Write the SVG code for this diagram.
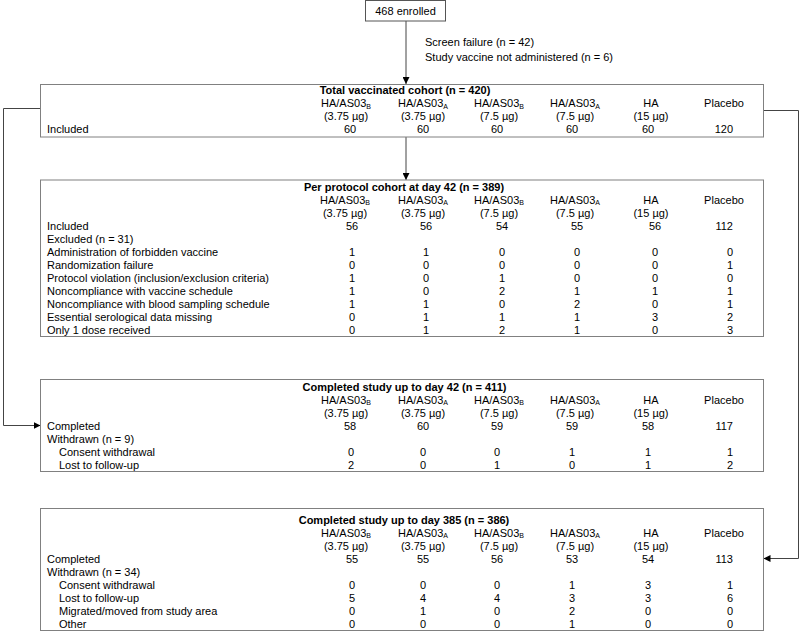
<svg xmlns="http://www.w3.org/2000/svg" width="800" height="632" viewBox="0 0 800 632">
<style>
text{font-family:"Liberation Sans",Arial,sans-serif;font-size:11px;fill:#000}
.t{font-weight:bold;text-anchor:middle}
.c{text-anchor:middle}
.e{text-anchor:end}
.s{font-size:7px}
.box{fill:#fff;stroke:#808080;stroke-width:1}
.top{fill:#fff;stroke:#555;stroke-width:1}
.ln{fill:none;stroke:#444;stroke-width:1}
</style>
<defs>
<marker id="ah" viewBox="0 0 10 10" refX="10" refY="5" markerWidth="7" markerHeight="7" markerUnits="userSpaceOnUse" orient="auto">
<path d="M0,0 L10,5 L0,10 z" fill="#000"/>
</marker>
</defs>

<g id="connectors">
<line class="ln" x1="406" y1="21" x2="406" y2="84" marker-end="url(#ah)"/>
<line class="ln" x1="406" y1="137" x2="406" y2="180" marker-end="url(#ah)"/>
<polyline class="ln" points="40.5,108.5 3.5,108.5 3.5,425.5 40.5,425.5" marker-end="url(#ah)"/>
<polyline class="ln" points="763.5,110.5 798.5,110.5 798.5,558.5 763.5,558.5" marker-end="url(#ah)"/>
</g>

<g id="enrolled">
<rect class="top" x="365.5" y="0.5" width="80" height="20.5"/>
<text class="c" x="405.5" y="15">468 enrolled</text>
</g>

<g id="excluded-note">
<text x="425" y="46">Screen failure (n = 42)</text>
<text x="425" y="60.5">Study vaccine not administered (n = 6)</text>
</g>

<g id="total-vaccinated">
<rect class="box" x="40.5" y="84.5" width="723" height="52.5"/>
<text class="t" x="405" y="94">Total vaccinated cohort (n = 420)</text>
<text class="c" x="346" y="107">HA/AS03<tspan class="s" dy="1.5">B</tspan></text>
<text class="c" x="423" y="107">HA/AS03<tspan class="s" dy="1.5">A</tspan></text>
<text class="c" x="499" y="107">HA/AS03<tspan class="s" dy="1.5">B</tspan></text>
<text class="c" x="575" y="107">HA/AS03<tspan class="s" dy="1.5">A</tspan></text>
<text class="c" x="651" y="107">HA</text>
<text class="c" x="724" y="107">Placebo</text>
<text class="c" x="346" y="120">(3.75 µg)</text>
<text class="c" x="423" y="120">(3.75 µg)</text>
<text class="c" x="499" y="120">(7.5 µg)</text>
<text class="c" x="575" y="120">(7.5 µg)</text>
<text class="c" x="651" y="120">(15 µg)</text>
<text x="47" y="133">Included</text>
<text class="c" x="350" y="133">60</text>
<text class="c" x="423" y="133">60</text>
<text class="c" x="497" y="133">60</text>
<text class="c" x="572" y="133">60</text>
<text class="c" x="648" y="133">60</text>
<text class="e" x="733" y="133">120</text>
</g>

<g id="per-protocol">
<rect class="box" x="40.5" y="180" width="723" height="156.5"/>
<text class="t" x="404" y="190.5">Per protocol cohort at day 42 (n = 389)</text>
<text class="c" x="345" y="203.5">HA/AS03<tspan class="s" dy="1.5">B</tspan></text>
<text class="c" x="423" y="203.5">HA/AS03<tspan class="s" dy="1.5">A</tspan></text>
<text class="c" x="499" y="203.5">HA/AS03<tspan class="s" dy="1.5">B</tspan></text>
<text class="c" x="575" y="203.5">HA/AS03<tspan class="s" dy="1.5">A</tspan></text>
<text class="c" x="651" y="203.5">HA</text>
<text class="c" x="724" y="203.5">Placebo</text>
<text class="c" x="345" y="216.5">(3.75 µg)</text>
<text class="c" x="423" y="216.5">(3.75 µg)</text>
<text class="c" x="499" y="216.5">(7.5 µg)</text>
<text class="c" x="575" y="216.5">(7.5 µg)</text>
<text class="c" x="651" y="216.5">(15 µg)</text>
<text x="47" y="229.5">Included</text>
<text class="c" x="352" y="229.5">56</text>
<text class="c" x="426" y="229.5">56</text>
<text class="c" x="502" y="229.5">54</text>
<text class="c" x="577" y="229.5">55</text>
<text class="c" x="655" y="229.5">56</text>
<text class="e" x="733" y="229.5">112</text>
<text x="47" y="242.5">Excluded (n = 31)</text>
<text x="47" y="255.5">Administration of forbidden vaccine</text>
<text class="c" x="352" y="255.5">1</text><text class="c" x="426" y="255.5">1</text><text class="c" x="502" y="255.5">0</text><text class="c" x="577" y="255.5">0</text><text class="c" x="655" y="255.5">0</text><text class="e" x="733" y="255.5">0</text>
<text x="47" y="268.5">Randomization failure</text>
<text class="c" x="352" y="268.5">0</text><text class="c" x="426" y="268.5">0</text><text class="c" x="502" y="268.5">0</text><text class="c" x="577" y="268.5">0</text><text class="c" x="655" y="268.5">0</text><text class="e" x="733" y="268.5">1</text>
<text x="47" y="281.5">Protocol violation (inclusion/exclusion criteria)</text>
<text class="c" x="352" y="281.5">1</text><text class="c" x="426" y="281.5">0</text><text class="c" x="502" y="281.5">1</text><text class="c" x="577" y="281.5">0</text><text class="c" x="655" y="281.5">0</text><text class="e" x="733" y="281.5">0</text>
<text x="47" y="294.5">Noncompliance with vaccine schedule</text>
<text class="c" x="352" y="294.5">1</text><text class="c" x="426" y="294.5">0</text><text class="c" x="502" y="294.5">2</text><text class="c" x="577" y="294.5">1</text><text class="c" x="655" y="294.5">1</text><text class="e" x="733" y="294.5">1</text>
<text x="47" y="307.5">Noncompliance with blood sampling schedule</text>
<text class="c" x="352" y="307.5">1</text><text class="c" x="426" y="307.5">1</text><text class="c" x="502" y="307.5">0</text><text class="c" x="577" y="307.5">2</text><text class="c" x="655" y="307.5">0</text><text class="e" x="733" y="307.5">1</text>
<text x="47" y="320.5">Essential serological data missing</text>
<text class="c" x="352" y="320.5">0</text><text class="c" x="426" y="320.5">1</text><text class="c" x="502" y="320.5">1</text><text class="c" x="577" y="320.5">1</text><text class="c" x="655" y="320.5">3</text><text class="e" x="733" y="320.5">2</text>
<text x="47" y="333.5">Only 1 dose received</text>
<text class="c" x="352" y="333.5">0</text><text class="c" x="426" y="333.5">1</text><text class="c" x="502" y="333.5">2</text><text class="c" x="577" y="333.5">1</text><text class="c" x="655" y="333.5">0</text><text class="e" x="733" y="333.5">3</text>
</g>

<g id="completed-day42">
<rect class="box" x="40.5" y="379.5" width="723" height="92"/>
<text class="t" x="404.5" y="390.5">Completed study up to day 42 (n = 411)</text>
<text class="c" x="346" y="403.5">HA/AS03<tspan class="s" dy="1.5">B</tspan></text>
<text class="c" x="423" y="403.5">HA/AS03<tspan class="s" dy="1.5">A</tspan></text>
<text class="c" x="499" y="403.5">HA/AS03<tspan class="s" dy="1.5">B</tspan></text>
<text class="c" x="575" y="403.5">HA/AS03<tspan class="s" dy="1.5">A</tspan></text>
<text class="c" x="651" y="403.5">HA</text>
<text class="c" x="724" y="403.5">Placebo</text>
<text class="c" x="346" y="416.5">(3.75 µg)</text>
<text class="c" x="423" y="416.5">(3.75 µg)</text>
<text class="c" x="499" y="416.5">(7.5 µg)</text>
<text class="c" x="575" y="416.5">(7.5 µg)</text>
<text class="c" x="651" y="416.5">(15 µg)</text>
<text x="47" y="429.5">Completed</text>
<text class="c" x="350" y="429.5">58</text><text class="c" x="423" y="429.5">60</text><text class="c" x="497" y="429.5">59</text><text class="c" x="572" y="429.5">59</text><text class="c" x="648" y="429.5">58</text><text class="e" x="733" y="429.5">117</text>
<text x="47" y="442.5">Withdrawn (n = 9)</text>
<text x="59" y="455.5">Consent withdrawal</text>
<text class="c" x="351" y="455.5">0</text><text class="c" x="423" y="455.5">0</text><text class="c" x="497" y="455.5">0</text><text class="c" x="572" y="455.5">1</text><text class="c" x="648" y="455.5">1</text><text class="e" x="733" y="455.5">1</text>
<text x="59" y="468.5">Lost to follow-up</text>
<text class="c" x="351" y="468.5">2</text><text class="c" x="423" y="468.5">0</text><text class="c" x="497" y="468.5">1</text><text class="c" x="572" y="468.5">0</text><text class="c" x="648" y="468.5">1</text><text class="e" x="733" y="468.5">2</text>
</g>

<g id="completed-day385">
<rect class="box" x="40.5" y="508.5" width="723" height="122"/>
<text class="t" x="404" y="523.5">Completed study up to day 385 (n = 386)</text>
<text class="c" x="346" y="536.5">HA/AS03<tspan class="s" dy="1.5">B</tspan></text>
<text class="c" x="423" y="536.5">HA/AS03<tspan class="s" dy="1.5">A</tspan></text>
<text class="c" x="499" y="536.5">HA/AS03<tspan class="s" dy="1.5">B</tspan></text>
<text class="c" x="575" y="536.5">HA/AS03<tspan class="s" dy="1.5">A</tspan></text>
<text class="c" x="651" y="536.5">HA</text>
<text class="c" x="724" y="536.5">Placebo</text>
<text class="c" x="346" y="549.5">(3.75 µg)</text>
<text class="c" x="423" y="549.5">(3.75 µg)</text>
<text class="c" x="499" y="549.5">(7.5 µg)</text>
<text class="c" x="575" y="549.5">(7.5 µg)</text>
<text class="c" x="651" y="549.5">(15 µg)</text>
<text x="47" y="562.5">Completed</text>
<text class="c" x="352" y="562.5">55</text><text class="c" x="423" y="562.5">55</text><text class="c" x="497" y="562.5">56</text><text class="c" x="572" y="562.5">53</text><text class="c" x="648" y="562.5">54</text><text class="e" x="733" y="562.5">113</text>
<text x="47" y="575.5">Withdrawn (n = 34)</text>
<text x="59" y="588.5">Consent withdrawal</text>
<text class="c" x="352" y="588.5">0</text><text class="c" x="423" y="588.5">0</text><text class="c" x="497" y="588.5">0</text><text class="c" x="572" y="588.5">1</text><text class="c" x="648" y="588.5">3</text><text class="e" x="733" y="588.5">1</text>
<text x="59" y="601.5">Lost to follow-up</text>
<text class="c" x="352" y="601.5">5</text><text class="c" x="423" y="601.5">4</text><text class="c" x="497" y="601.5">4</text><text class="c" x="572" y="601.5">3</text><text class="c" x="648" y="601.5">3</text><text class="e" x="733" y="601.5">6</text>
<text x="59" y="614.5">Migrated/moved from study area</text>
<text class="c" x="352" y="614.5">0</text><text class="c" x="423" y="614.5">1</text><text class="c" x="497" y="614.5">0</text><text class="c" x="572" y="614.5">2</text><text class="c" x="648" y="614.5">0</text><text class="e" x="733" y="614.5">0</text>
<text x="59" y="627.5">Other</text>
<text class="c" x="352" y="627.5">0</text><text class="c" x="423" y="627.5">0</text><text class="c" x="497" y="627.5">0</text><text class="c" x="572" y="627.5">1</text><text class="c" x="648" y="627.5">0</text><text class="e" x="733" y="627.5">0</text>
</g>
</svg>
